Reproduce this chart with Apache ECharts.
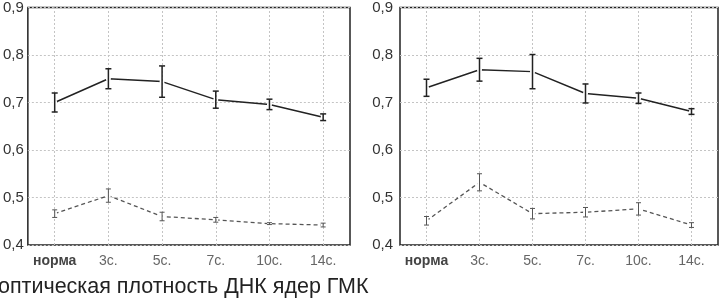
<!DOCTYPE html>
<html>
<head>
<meta charset="utf-8">
<script src="https://cdn.jsdelivr.net/npm/echarts@6/dist/echarts.min.js"></script>
<style>
  html, body { margin: 0; padding: 0; background: #fff; }
  #chart { width: 720px; height: 299px; }
</style>
</head>
<body>
<div id="chart"></div>
<script>
const categories = ['норма', '3с.', '5с.', '7с.', '10с.', '14с.'];
const yTicks = [0.4, 0.5, 0.6, 0.7, 0.8, 0.9];

// left panel
const leftSolid = [0.700, 0.750, 0.744, 0.706, 0.696, 0.669];
const leftSolidErr = [0.020, 0.021, 0.033, 0.018, 0.011, 0.007];
const leftDashed = [0.466, 0.504, 0.460, 0.453, 0.445, 0.442];
const leftDashedErr = [0.008, 0.014, 0.009, 0.005, 0.002, 0.004];

// right panel
const rightSolid = [0.731, 0.769, 0.765, 0.719, 0.709, 0.681];
const rightSolidErr = [0.018, 0.024, 0.036, 0.020, 0.011, 0.006];
const rightDashed = [0.451, 0.532, 0.466, 0.469, 0.476, 0.442];
const rightDashedErr = [0.009, 0.018, 0.011, 0.010, 0.013, 0.005];

const caption = 'оптическая плотность ДНК ядер ГМК';

const font = '"Liberation Sans", Arial, sans-serif';

const chart = echarts.init(document.getElementById('chart'));

function errBars(vals, errs, axisIdx, color, cap, width) {
  return {
    type: 'custom',
    xAxisIndex: axisIdx,
    yAxisIndex: axisIdx,
    z: 5,
    silent: true,
    data: vals.map((v, i) => [i, v - errs[i], v + errs[i]]),
    renderItem(params, api) {
      const lo = api.coord([api.value(0), api.value(1)]);
      const hi = api.coord([api.value(0), api.value(2)]);
      const st = { stroke: color, lineWidth: width };
      return {
        type: 'group',
        children: [
          { type: 'line', shape: { x1: lo[0], y1: lo[1], x2: hi[0], y2: hi[1] }, style: st },
          { type: 'line', shape: { x1: lo[0] - cap, y1: lo[1], x2: lo[0] + cap, y2: lo[1] }, style: st },
          { type: 'line', shape: { x1: hi[0] - cap, y1: hi[1], x2: hi[0] + cap, y2: hi[1] }, style: st }
        ]
      };
    }
  };
}

function line(vals, axisIdx, dashed, withGridLines) {
  const s = {
    type: 'line',
    xAxisIndex: axisIdx,
    yAxisIndex: axisIdx,
    data: vals,
    symbol: 'emptyCircle',
    symbolSize: 3,
    z: 4,
    silent: true,
    itemStyle: { color: '#fff', borderColor: dashed ? '#555' : '#222', borderWidth: 1 },
    lineStyle: dashed
      ? { color: '#555', width: 1.3, type: [4, 3] }
      : { color: '#222', width: 1.5 }
  };
  if (withGridLines) {
    s.markLine = {
      silent: true,
      symbol: 'none',
      label: { show: false },
      lineStyle: { color: '#c4c4c4', width: 1, type: [2, 2] },
      data: categories.map(c => ({ xAxis: c }))
    };
  }
  return s;
}

function xAxis(gridIndex) {
  return {
    type: 'category',
    gridIndex,
    data: categories,
    axisLine: { show: false },
    axisTick: { show: false },
    splitLine: { show: false },
    axisLabel: {
      interval: 0,
      margin: 9,
      fontFamily: font,
      fontSize: 14,
      color: '#666',
      formatter: v => v === 'норма' ? '{b|' + v + '}' : v,
      rich: { b: { fontWeight: 'bold', fontSize: 14, color: '#444', fontFamily: font } }
    }
  };
}

function yAxis(gridIndex, margin) {
  return {
    type: 'value',
    gridIndex,
    min: yTicks[0],
    max: yTicks[yTicks.length - 1],
    interval: 0.1,
    axisLine: { show: false },
    axisTick: { show: false },
    splitLine: { lineStyle: { color: '#c4c4c4', width: 1, type: [2, 2] } },
    axisLabel: {
      margin,
      fontFamily: font,
      fontSize: 15,
      color: '#333',
      formatter: v => v.toFixed(1).replace('.', ',')
    }
  };
}

chart.setOption({
  backgroundColor: '#fff',
  animation: false,
  grid: [
    { left: 27, top: 5, width: 323, height: 240, show: true, borderColor: '#222', borderWidth: 1.5, backgroundColor: '#fff' },
    { left: 400, top: 5, width: 318, height: 240, show: true, borderColor: '#222', borderWidth: 1.5, backgroundColor: '#fff' }
  ],
  xAxis: [xAxis(0), xAxis(1)],
  yAxis: [yAxis(0, 4), yAxis(1, 7)],
  graphic: [{
    type: 'text',
    left: -2,
    top: 276,
    style: { text: caption, fontFamily: font, fontSize: 21.5, fill: '#222' }
  }],
  series: [
    line(leftSolid, 0, false, true),
    line(leftDashed, 0, true, false),
    errBars(leftSolid, leftSolidErr, 0, '#222', 3, 1.5),
    errBars(leftDashed, leftDashedErr, 0, '#555', 2.5, 1),
    line(rightSolid, 1, false, true),
    line(rightDashed, 1, true, false),
    errBars(rightSolid, rightSolidErr, 1, '#222', 3, 1.5),
    errBars(rightDashed, rightDashedErr, 1, '#555', 2.5, 1)
  ]
});
</script>
</body>
</html>
